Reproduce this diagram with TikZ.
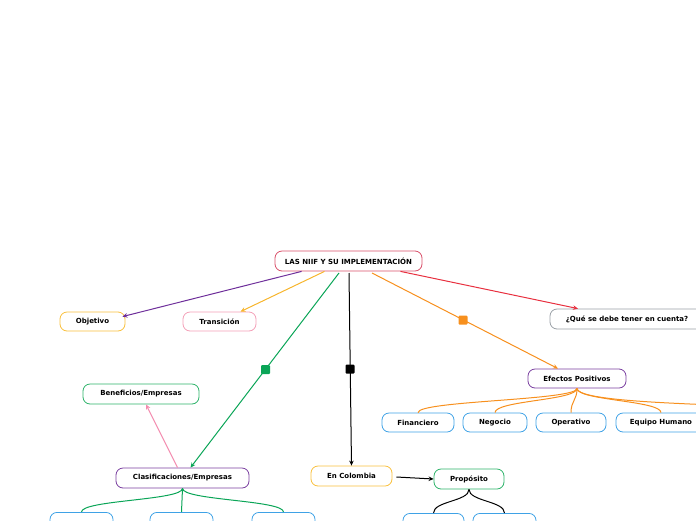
\documentclass[tikz,border=0pt]{standalone}
\usepackage{fontspec}
\setmainfont{DejaVu Sans}[BoldFont={DejaVu Sans Bold}]
\usetikzlibrary{arrows.meta}
\definecolor{cpurple}{HTML}{6E2E9A}
\definecolor{cyellow}{HTML}{F7B52C}
\definecolor{cgreen}{HTML}{0AA557}
\definecolor{corange}{HTML}{F7901E}
\definecolor{cred}{HTML}{E8303F}
\definecolor{cpink}{HTML}{F38BAE}
\definecolor{cblue}{HTML}{3FA2E6}
\definecolor{cgray}{HTML}{9AA0A6}
\definecolor{cmain}{HTML}{D9506A}
\definecolor{bpurple}{HTML}{7A3FA0}
\definecolor{bgreen}{HTML}{2DB36A}
\definecolor{byellow}{HTML}{F9C03D}
\definecolor{bpink}{HTML}{F4A0B8}
\tikzset{
  box/.style={draw=#1, line width=0.8pt, rounded corners=7pt, fill=white,
    font=\fontsize{7}{8}\selectfont\bfseries, inner sep=0pt, text=black},
  conn/.style={line width=1pt, draw=#1},
  arr/.style={-{Stealth[length=5pt,width=4.5pt]}},
  marker/.style={fill=#1, draw=none, rounded corners=1pt, minimum size=9pt, inner sep=0pt},
}
\begin{document}
\begin{tikzpicture}[x=1pt,y=-1pt]
\useasboundingbox (0,0) rectangle (696,520);
% nodes
\node[box=cmain, minimum width=147pt, minimum height=20pt] (main) at (348.5,261) {LAS NIIF Y SU IMPLEMENTACIÓN};
\node[box=byellow, minimum width=65pt, minimum height=19pt] (obj) at (92.5,321.5) {Objetivo};
\node[box=bpink, minimum width=73pt, minimum height=19pt] (tra) at (219.5,321.5) {Transición};
\node[box=cgray, minimum width=154pt, minimum height=20pt] (que) at (627,319) {¿Qué se debe tener en cuenta?};
\node[box=bpurple, minimum width=98pt, minimum height=19pt] (efe) at (577,378.5) {Efectos Positivos};
\node[box=cblue, minimum width=72pt, minimum height=19pt] (fin) at (418,422.5) {Financiero};
\node[box=cblue, minimum width=64pt, minimum height=19pt] (neg) at (495,422.5) {Negocio};
\node[box=cblue, minimum width=70pt, minimum height=19pt] (ope) at (571,422.5) {Operativo};
\node[box=cblue, minimum width=90pt, minimum height=19pt] (equ) at (661,422.5) {Equipo Humano};
\node[box=bgreen, minimum width=116pt, minimum height=20pt] (ben) at (141,394) {Beneficios/Empresas};
\node[box=bpurple, minimum width=133pt, minimum height=20pt] (cla) at (182.5,478) {Clasificaciones/Empresas};
\node[box=byellow, minimum width=81pt, minimum height=20pt] (col) at (351.5,476) {En Colombia};
\node[box=bgreen, minimum width=70pt, minimum height=20pt] (pro) at (469,479) {Propósito};
\node[box=cblue, minimum width=63pt, minimum height=20pt, anchor=north] (c1) at (81.5,512) {};
\node[box=cblue, minimum width=63pt, minimum height=20pt, anchor=north] (c2) at (181.5,512) {};
\node[box=cblue, minimum width=63pt, minimum height=20pt, anchor=north] (c3) at (283.5,512) {};
\node[box=cblue, minimum width=61pt, minimum height=20pt, anchor=north] (p1) at (433.5,513) {};
\node[box=cblue, minimum width=63pt, minimum height=20pt, anchor=north] (p2) at (504.5,513) {};
\coordinate (off) at (712,405);
% connectors from main
\draw[conn=cpurple, arr] (main.south west) ++(27,0) -- ([xshift=-3pt,yshift=-5pt]obj.north east);
\draw[conn=cyellow, arr] (main.south) ++(-24,0) -- ([xshift=21pt]tra.north);
\coordinate (mg) at (339,273);
\coordinate (mb) at (349,273);
\coordinate (mo) at (372,273);
\draw[conn=cgreen, arr] (mg) -- ([xshift=8pt]cla.north);
\node[marker=cgreen] (sqg) at (265.5,369.5) {};
\draw[conn=black, arr] (mb) -- (col.north);
\node[marker=black] (sqb) at (350,369) {};
\draw[conn=corange, arr] (mo) -- ([xshift=-19pt]efe.north);
\node[marker=corange] (sqo) at (463,320) {};
\draw[conn=cred, arr] ([xshift=52pt]main.south) -- ([xshift=-49pt]que.north);
% secondary
\draw[conn=cpink, arr] ([xshift=-5pt]cla.north) -- ([xshift=5pt]ben.south);
\draw[conn=black, arr] (col.east) ++(4,1) -- (pro.west);
% branches
\foreach \t in {fin,neg,ope,equ}{
  \draw[conn=corange] (efe.south) .. controls ++(0,12) and ([yshift=12pt]\t.north) .. (\t.north);
}
\draw[conn=corange] (efe.south) .. controls ++(0,12) and ([xshift=-40pt,yshift=2pt]off) .. (off);
\foreach \t in {c1,c2,c3}{
  \draw[conn=cgreen] (cla.south) .. controls ++(0,12) and ([yshift=12pt]\t.north) .. (\t.north);
}
\foreach \t in {p1,p2}{
  \draw[conn=black] (pro.south) .. controls ++(0,12) and ([yshift=12pt]\t.north) .. (\t.north);
}
\end{tikzpicture}
\end{document}
